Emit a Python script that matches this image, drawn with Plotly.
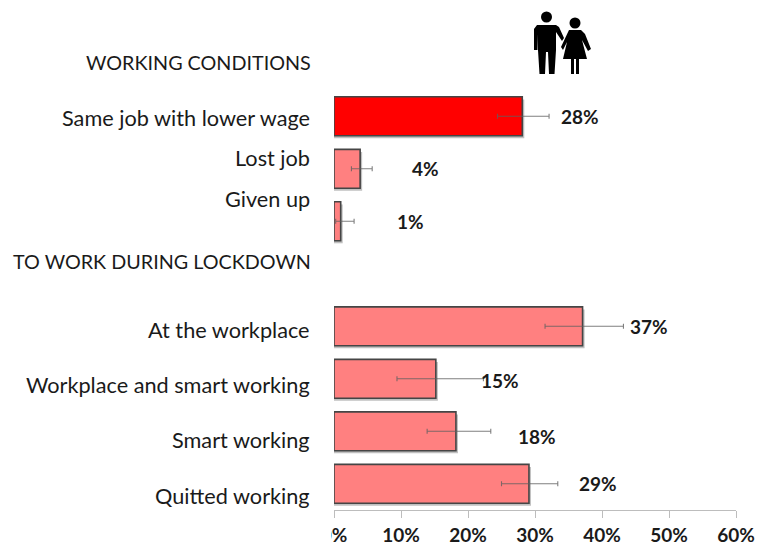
import plotly.graph_objects as go

# ---- data ----
categories = ["Same job with lower wage", "Lost job", "Given up", "",
              "At the workplace", "Workplace and smart working", "Smart working", "Quitted working"]
values = [28.1, 3.9, 1.0, None, 37.1, 15.2, 18.2, 29.1]
err_low = [24.4, 2.6, 0.25, None, 31.5, 9.4, 13.9, 25.0]
err_high = [32.1, 5.7, 3.0, None, 43.2, 22.3, 23.4, 33.4]
value_labels = ["28%", "4%", "1%", "", "37%", "15%", "18%", "29%"]
headers = ["WORKING CONDITIONS", "TO WORK DURING LOCKDOWN"]
tick_values = [0, 10, 20, 30, 40, 50, 60]
tick_labels = ["0%", "10%", "20%", "30%", "40%", "50%", "60%"]

# ---- layout helpers ----
W, H = 757, 546
L, R, T, B = 334, 21, 90, 36
PW, PH = W - L - R, H - T - B
RED, PINK = "#ff0000", "#ff8080"
FONT = "Lato, 'Open Sans', sans-serif"
INK = "#1a1a1a"


def px(x):
    return (x - L) / PW


def py(y):
    return 1 - (y - T) / PH


positions = list(range(len(categories)))
colors = [RED] + [PINK] * (len(categories) - 1)
minus = [None if v is None else v - e for v, e in zip(values, err_low)]
plus = [None if v is None else e - v for v, e in zip(values, err_high)]

fig = go.Figure()
# soft drop shadow
fig.add_trace(go.Bar(y=[p + 0.05 for p in positions], x=[None if v is None else v + 0.3 for v in values],
                     orientation="h", width=0.74, marker=dict(color="rgba(90,90,90,0.38)", line_width=0),
                     hoverinfo="skip", showlegend=False))
fig.add_trace(go.Bar(y=positions, x=values, orientation="h", width=0.74,
                     marker=dict(color=colors, line=dict(color="#454545", width=1.6)),
                     error_x=dict(type="data", symmetric=False, array=plus, arrayminus=minus,
                                  color="rgba(95,95,95,0.8)", thickness=1.1, width=2.5),
                     showlegend=False, hovertext=categories, hoverinfo="text+x"))

annotations = []


def label(text, x, y, size=21.7, bold=False, anchor="right"):
    annotations.append(dict(text=f"<b>{text}</b>" if bold else text, x=px(x), y=py(y), xref="paper", yref="paper",
                            xanchor=anchor, yanchor="middle", showarrow=False,
                            font=dict(family=FONT, size=size, color=INK)))


# category labels sit slightly apart from their bars in the original
cat_y = [118, 158, 199, None, 330, 385, 440, 496]
for c, y in zip(categories, cat_y):
    if y is not None:
        label(c, 312, y)
label(headers[0], 313, 62, size=19.75)
label(headers[1], 313, 261, size=19.75)

val_x = [580, 425, 410, None, 649, 500, 537, 598]
val_y = [116, 168, 221, None, 326, 380, 436, 483]
for t, x, y in zip(value_labels, val_x, val_y):
    if x is not None:
        label(t, x, y, size=19, bold=True, anchor="center")

# white mask clips the left of the 0% label like the original
shapes = [dict(type="rect", xref="paper", yref="paper", x0=px(316), x1=px(331), y0=py(546), y1=py(522),
               fillcolor="white", line_width=0, layer="above")]


def pp(points):
    return "M" + " L".join(f"{px(x):.5f},{py(y):.5f}" for x, y in points) + " Z"


def disc(cx, cy, r):
    return dict(type="circle", xref="paper", yref="paper", x0=px(cx - r), x1=px(cx + r),
                y0=py(cy + r), y1=py(cy - r), fillcolor="black", line_width=0, layer="above")


def poly(points):
    return dict(type="path", xref="paper", yref="paper", path=pp(points), fillcolor="black",
                line_width=0, layer="above")


# couple icon
shapes += [
    disc(546.5, 17, 5.5),
    poly([(537, 25), (556, 25), (559, 27), (564, 38), (562, 41), (556, 32), (556, 50), (554.5, 74), (549, 74),
          (548, 52), (546, 52), (545, 74), (539.5, 74), (538, 50), (538, 34), (537.5, 50),
          (534, 50), (534, 29)]),
    disc(575, 23, 5.5),
    poly([(569, 30), (581, 30), (585, 34), (591, 49), (588, 51), (582, 40), (587, 59), (579, 59), (579, 74), (576, 74),
          (576, 59), (574, 59), (574, 74), (571, 74), (571, 59), (563, 59), (567, 42), (563, 50), (561, 47)]),
]

fig.update_layout(
    width=W, height=H, margin=dict(l=L, r=R, t=T, b=B, pad=0, autoexpand=False),
    paper_bgcolor="white", plot_bgcolor="white", barmode="overlay", bargap=0.26,
    annotations=annotations, shapes=shapes,
    xaxis=dict(range=[0, 60], tickvals=tick_values, ticktext=[f"<b>{t}</b>" for t in tick_labels], ticks="outside",
               ticklen=7, tickcolor="#bdbdbd", tickwidth=1, showline=True, linecolor="#bdbdbd", linewidth=1,
               showgrid=False, zeroline=False, ticklabelstandoff=1, automargin=False,
               tickfont=dict(family=FONT, size=19, color=INK)),
    yaxis=dict(range=[7.5, -0.5], visible=False, showgrid=False, zeroline=False, automargin=False),
)
fig.write_html("out.html", post_script="document.body.style.margin='0';", config=dict(displayModeBar=False))
